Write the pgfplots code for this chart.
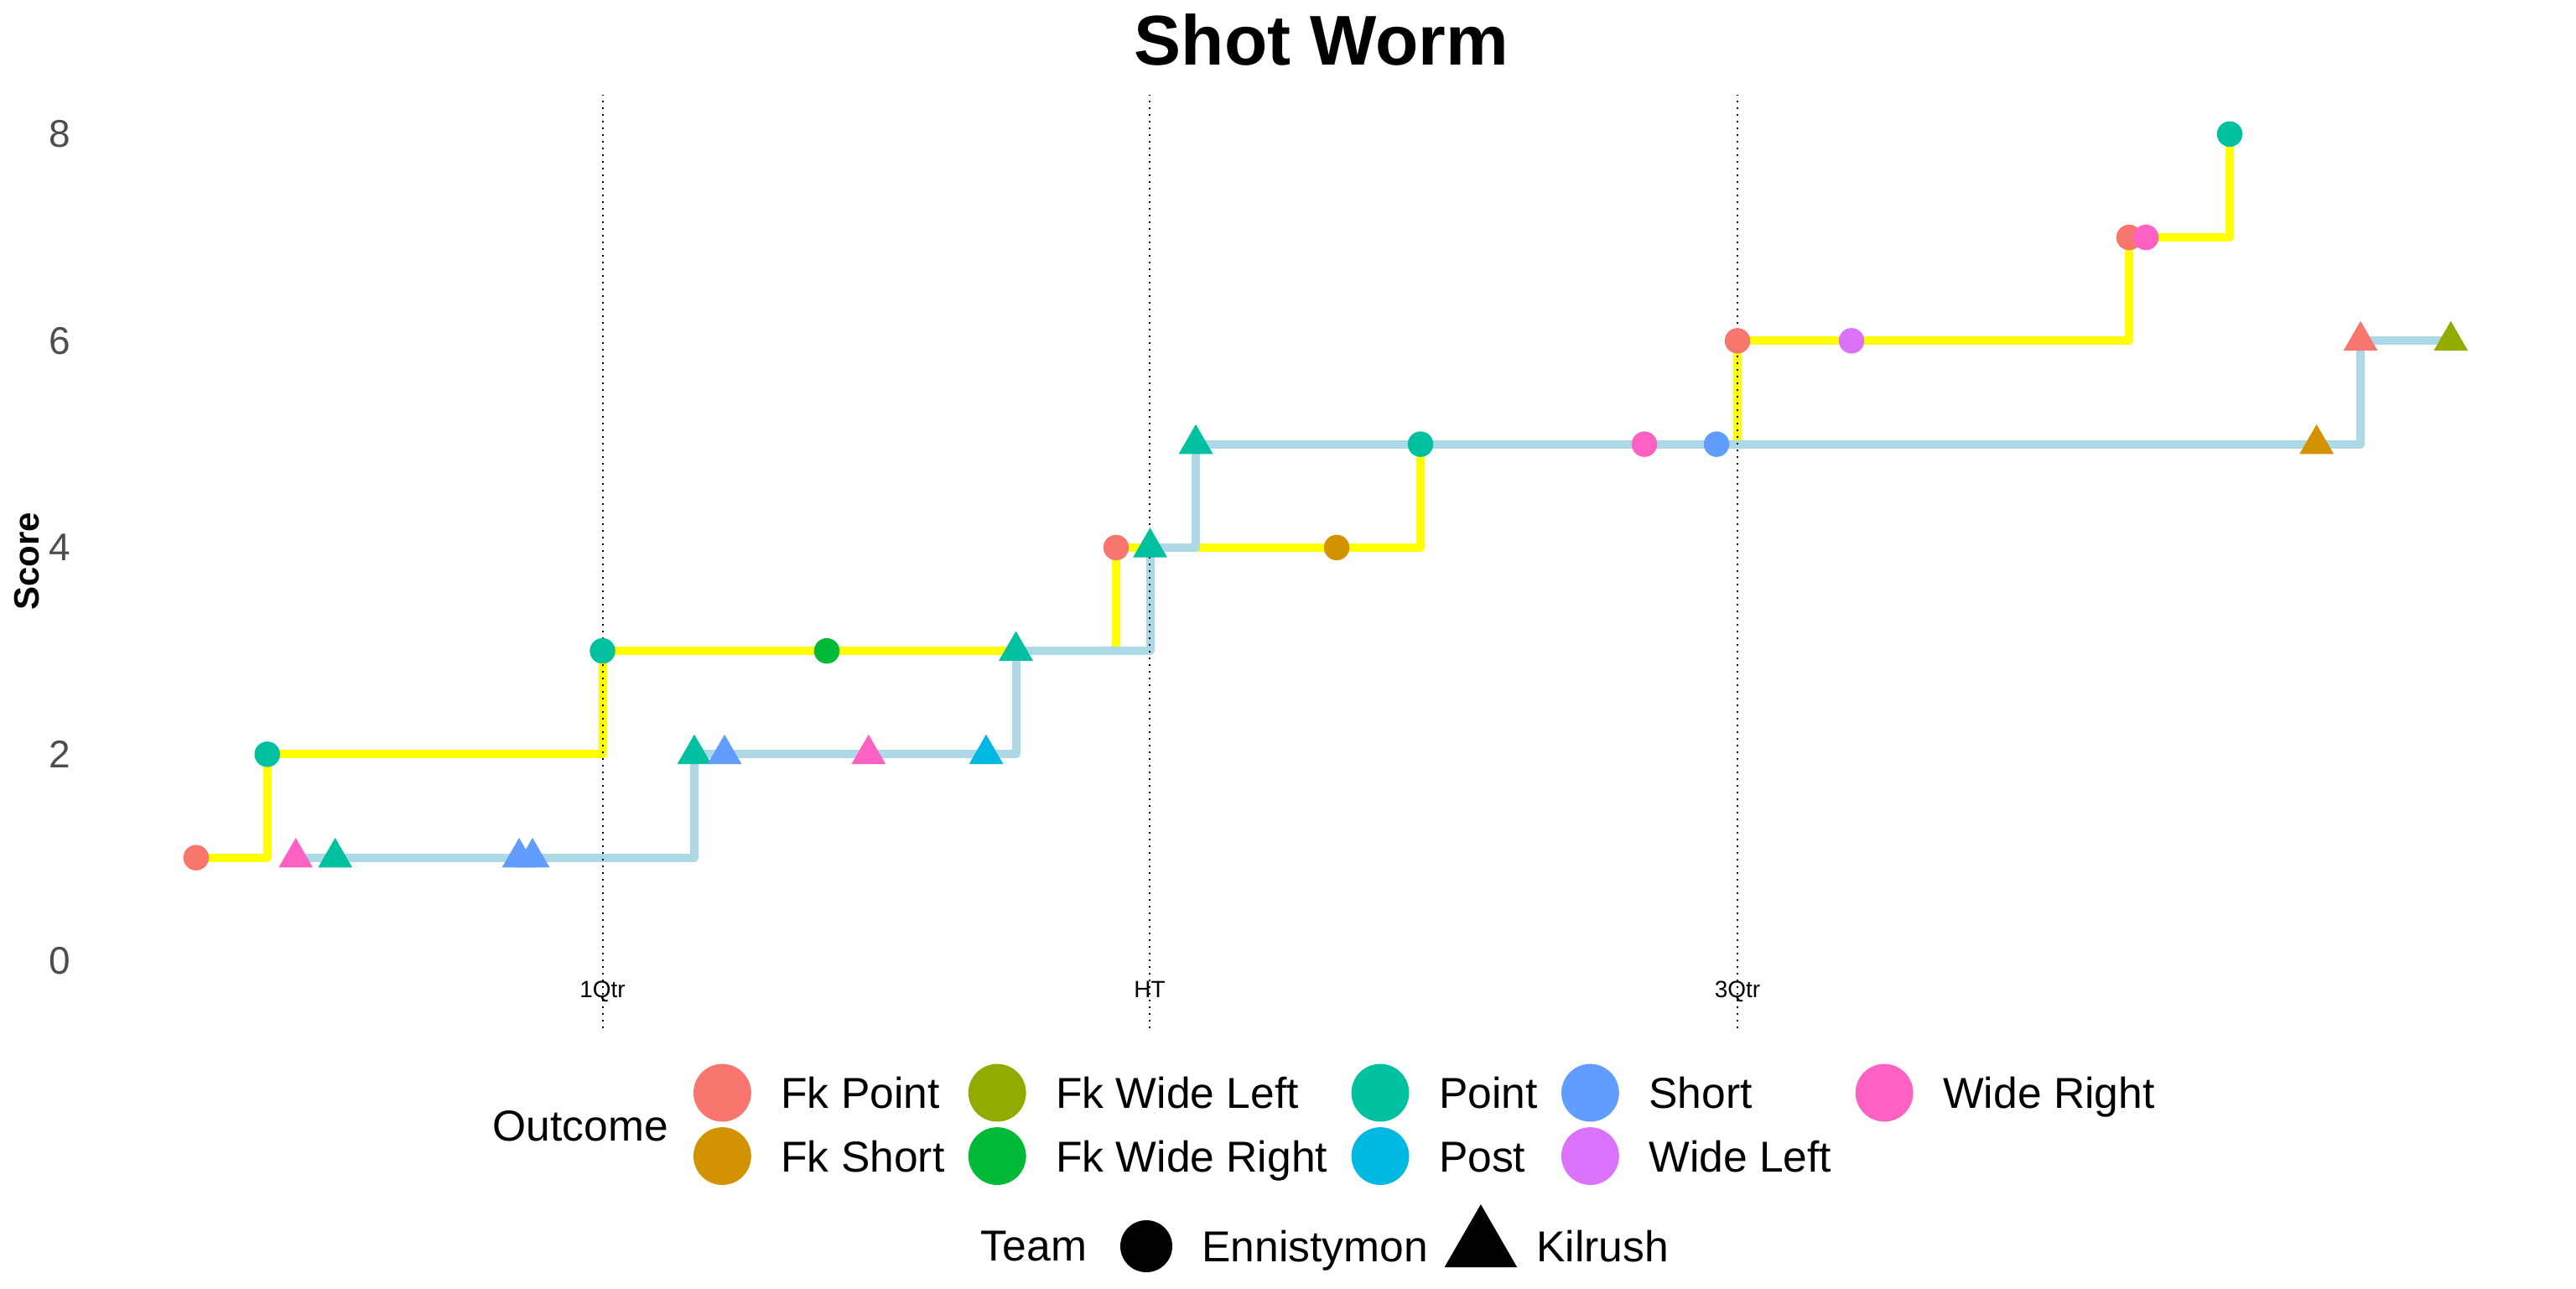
\documentclass[border=0pt]{standalone}
\usepackage{fontspec}
\setmainfont{Liberation Sans}
\usepackage{pgfplots}
\usepackage{pgfplotstable}
\pgfplotsset{compat=1.18}

\definecolor{cFkPoint}{HTML}{F8766D}
\definecolor{cFkShort}{HTML}{D39200}
\definecolor{cFkWideLeft}{HTML}{93AA00}
\definecolor{cFkWideRight}{HTML}{00BA38}
\definecolor{cPoint}{HTML}{00C19F}
\definecolor{cPost}{HTML}{00B9E3}
\definecolor{cShort}{HTML}{619CFF}
\definecolor{cWideLeft}{HTML}{DB72FB}
\definecolor{cWideRight}{HTML}{FF61C3}
\definecolor{cYellow}{HTML}{FFFF00}
\definecolor{cBlue}{HTML}{ADD8E6}
\definecolor{tickgray}{HTML}{4D4D4D}

% Ennistymon shots: time (min), score, outcome
\pgfplotstableread{
x y o
5.116 1 FkPoint
6.974 2 Point
15.722 3 Point
21.575 3 FkWideRight
29.125 4 FkPoint
34.880 4 FkShort
37.068 5 Point
42.910 5 WideRight
44.792 5 Short
45.339 6 FkPoint
48.315 6 WideLeft
55.558 7 FkPoint
55.996 7 WideRight
58.184 8 Point
}\enn

% Kilrush shots
\pgfplotstableread{
x y o
7.718 1 WideRight
8.746 1 Point
13.545 1 Short
13.895 1 Short
18.118 2 Point
18.906 2 Short
22.665 2 WideRight
25.733 2 Post
26.510 3 Point
30.011 4 Point
31.204 5 Point
60.451 5 FkShort
61.597 6 FkPoint
63.952 6 FkWideLeft
}\kil

\pgfplotsset{
  outcomeclasses/.style={
    scatter/classes={
      FkPoint={color=cFkPoint},
      FkShort={color=cFkShort},
      FkWideLeft={color=cFkWideLeft},
      FkWideRight={color=cFkWideRight},
      Point={color=cPoint},
      Post={color=cPost},
      Short={color=cShort},
      WideLeft={color=cWideLeft},
      WideRight={color=cWideRight}}},
}
\tikzset{
  legtext/.style={font=\fontsize{12.9}{15}\selectfont, inner sep=0pt, text height=9.24pt, text depth=0pt},
}

\begin{document}
\begin{tikzpicture}
\useasboundingbox (0pt,0pt) rectangle (768pt,384pt);

\begin{axis}[
  at={(24.75pt,77.5pt)}, anchor=south west,
  width=739.25pt, height=278.25pt, scale only axis,
  xmin=2.166, xmax=66.87, ymin=-0.65, ymax=8.38,
  axis line style={draw=none},
  xtick=\empty, ytick={0,2,4,6,8},
  major tick length=0pt,
  /pgf/number format/assume math mode=true,
  yticklabel style={font=\fontsize{11.5}{13}\selectfont, text=tickgray, inner sep=0pt, xshift=-3.5pt},
  ylabel={Score},
  every axis y label/.style={at={(axis description cs:-0.0228,0.5)}, rotate=90, anchor=center,
     font=\bfseries\fontsize{10.5}{12}\selectfont},
  clip=false,
  legend columns=5,
  legend cell align=left,
  legend image code/.code={\path[draw=none,fill=none] (-8.6pt,-8.6pt) rectangle (8.6pt,8.6pt); \fill[#1,draw=none] (0pt,0pt) circle[radius=8.6pt];},
  legend style={draw=none, fill=none, inner sep=0pt, outer sep=0pt,
     at={(0.2462,-0.0383)}, anchor=north west,
     /tikz/every odd column/.style={column sep=8.9pt},
     /tikz/every even column/.style={column sep=7.1pt},
     row sep=1.675pt,
     nodes={legtext}},
]
\addlegendimage{color=cFkPoint}\addlegendentry{Fk Point}
\addlegendimage{color=cFkWideLeft}\addlegendentry{Fk Wide Left}
\addlegendimage{color=cPoint}\addlegendentry{Point}
\addlegendimage{color=cShort}\addlegendentry{Short}
\addlegendimage{color=cWideRight}\addlegendentry{Wide Right}
\addlegendimage{color=cFkShort}\addlegendentry{Fk Short}
\addlegendimage{color=cFkWideRight}\addlegendentry{Fk Wide Right}
\addlegendimage{color=cPost}\addlegendentry{Post}
\addlegendimage{color=cWideLeft}\addlegendentry{Wide Left}

% step lines
\addplot[forget plot, const plot, draw=cYellow, line width=2.5pt, line join=round, mark=none] table[x=x,y=y] {\enn};
\addplot[forget plot, const plot, draw=cBlue, line width=2.5pt, line join=round, mark=none] table[x=x,y=y] {\kil};

% shots
\addplot[forget plot, scatter, only marks, scatter src=explicit symbolic, outcomeclasses,
  mark=*, mark size=3.6pt] table[x=x,y=y,meta=o] {\enn};
\addplot[forget plot, scatter, only marks, scatter src=explicit symbolic, outcomeclasses,
  mark=triangle*, mark size=5.5pt] table[x=x,y=y,meta=o] {\kil};

% quarter markers
\addplot[forget plot, black, line width=0.5pt, dash pattern=on 0.5pt off 1.5pt] coordinates {(15.722,-0.65) (15.722,8.38)};
\addplot[forget plot, black, line width=0.5pt, dash pattern=on 0.5pt off 1.5pt] coordinates {(30.000,-0.65) (30.000,8.38)};
\addplot[forget plot, black, line width=0.5pt, dash pattern=on 0.5pt off 1.5pt] coordinates {(45.339,-0.65) (45.339,8.38)};
\node[font=\fontsize{7}{8}\selectfont, inner sep=0pt, text height=5pt, text depth=0pt] at (axis cs:15.722,-0.27) {1Qtr};
\node[font=\fontsize{7}{8}\selectfont, inner sep=0pt, text height=5pt, text depth=0pt] at (axis cs:30.000,-0.27) {HT};
\node[font=\fontsize{7}{8}\selectfont, inner sep=0pt, text height=5pt, text depth=0pt] at (axis cs:45.339,-0.27) {3Qtr};
\end{axis}

% Team legend
\begin{axis}[
  at={(24.75pt,77.5pt)}, anchor=south west,
  width=739.25pt, height=278.25pt, scale only axis,
  xmin=0, xmax=1, ymin=0, ymax=1, hide axis,
  legend columns=2,
  legend cell align=left,
  legend style={draw=none, fill=none, inner sep=0pt, outer sep=0pt,
     at={(0.4142,-0.2336)}, anchor=west,
     /tikz/every odd column/.style={column sep=5.8pt},
     /tikz/every even column/.style={column sep=4.9pt},
     nodes={legtext}},
]
\addlegendimage{legend image code/.code={\path[draw=none,fill=none] (-10.8pt,-12.5pt) rectangle (10.8pt,12.5pt); \fill[black,draw=none] (0pt,0pt) circle[radius=7.75pt];}}
\addlegendentry{Ennistymon}
\addlegendimage{legend image code/.code={\path[draw=none,fill=none] (-10.8pt,-12.5pt) rectangle (10.8pt,12.5pt); \fill[black,draw=none] (90:12.5pt) -- (210:12.5pt) -- (330:12.5pt) -- cycle;}}
\addlegendentry{Kilrush}
\end{axis}

\node[legtext, anchor=west] at (146.75pt,48.5pt) {Outcome};
\node[legtext, anchor=west] at (292.25pt,12.75pt) {Team};
\node[font=\bfseries\fontsize{21}{25}\selectfont, inner sep=0pt, text height=15.04pt, text depth=0pt] at (394pt,372.1pt) {Shot Worm};
\end{tikzpicture}
\end{document}
